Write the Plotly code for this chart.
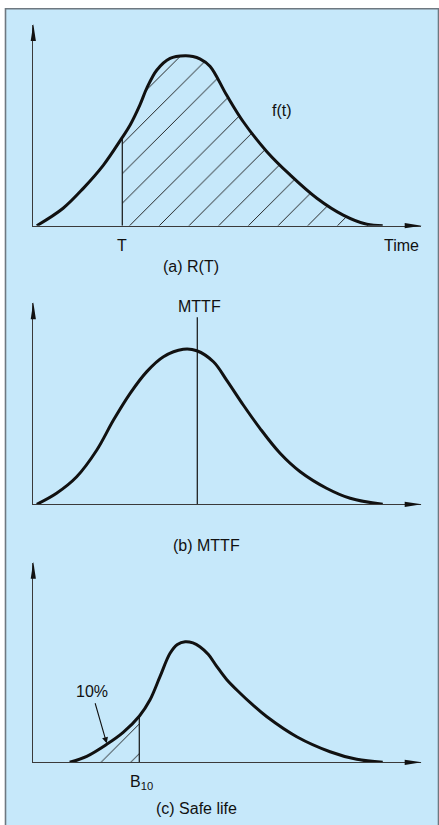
import plotly.graph_objects as go

# ---------------- data ----------------
# time axis runs 0..100, density axis 0..1 in every panel
# (a) R(T)
t_a = [0.9, 7.7, 12.9, 18.1, 22.8, 25.0, 27.5, 29.3, 31.9, 35.3, 39.2, 41.2, 43.0, 45.6,
       49.9, 54.2, 60.3, 66.3, 73.2, 80.0, 86.1, 90.2]
f_a = [0.0, 0.087, 0.186, 0.302, 0.435, 0.502, 0.601, 0.685, 0.776, 0.834, 0.847, 0.843,
       0.831, 0.795, 0.651, 0.518, 0.369, 0.253, 0.137, 0.053, 0.007, 0.0]
T_POS, T_TOP = 22.97, 0.436

# (b) MTTF
t_b = [0.9, 6.0, 11.2, 16.4, 20.7, 25.0, 29.3, 33.6, 38.7, 42.2, 46.5, 49.9, 54.2,
       58.5, 63.7, 68.9, 75.7, 81.8, 90.2]
f_b = [0.0, 0.055, 0.137, 0.270, 0.419, 0.552, 0.660, 0.734, 0.771, 0.764, 0.709,
       0.618, 0.494, 0.378, 0.254, 0.162, 0.080, 0.030, 0.0]
MTTF_POS, MTTF_TOP = 42.33, 0.93

# (c) Safe life
t_c = [9.4, 13.8, 18.95, 23.2, 27.4, 30.1, 32.7, 35.3, 37.2, 39.2, 41.2, 43.0, 45.2,
       47.3, 49.9, 53.4, 56.8, 60.3, 68.0, 76.6, 83.5, 90.2]
f_c = [0.0, 0.030, 0.090, 0.150, 0.232, 0.312, 0.429, 0.546, 0.590, 0.604, 0.598,
       0.579, 0.540, 0.482, 0.415, 0.346, 0.285, 0.228, 0.128, 0.053, 0.015, 0.0]
B10_POS, B10_TOP = 27.36, 0.232

captions = ["(a) R(T)", "(b) MTTF", "(c) Safe life"]

# ---------------- layout helpers ----------------
W, H = 439, 825
X_LEFT, X_RIGHT = 33.3, 420.7          # pixel extent of the time axis
panels_px = [(25.0, 225.7), (303.3, 504.3), (562.7, 762.3)]  # (top, axis) pixels

BLUE = "#C6E8FA"
FRAME = "#6E7880"
INK = "#111111"
AX = "#3a3a3a"
FONT = "Liberation Sans, Arial, Helvetica, sans-serif"

fig = go.Figure()


def refs(i):
    s = "" if i == 1 else str(i)
    return dict(xaxis=f"x{s}", yaxis=f"y{s}")


def add_curve(i, t, f):
    fig.add_trace(go.Scatter(x=t, y=f, mode="lines",
                             line=dict(color=INK, width=3, shape="spline", smoothing=1.0),
                             cliponaxis=False, hoverinfo="skip", showlegend=False, **refs(i)))


def add_vline(i, pos, top):
    fig.add_trace(go.Scatter(x=[pos, pos], y=[0, top], mode="lines", line=dict(color=INK, width=1.2),
                             cliponaxis=False, hoverinfo="skip", showlegend=False, **refs(i)))


def add_hatch(i, t, f):
    fig.add_trace(go.Scatter(x=t, y=f, mode="lines", line=dict(width=0, shape="spline", smoothing=1.0),
                             fill="tozeroy", fillcolor="rgba(0,0,0,0)",
                             fillpattern=dict(shape="/", size=21, solidity=0.045, fgcolor="#1a1a1a",
                                              bgcolor="rgba(0,0,0,0)", fillmode="replace"),
                             hoverinfo="skip", showlegend=False, **refs(i)))


# panel (a): hatched area right of T
ha_t = [T_POS] + [t for t in t_a if t > T_POS]
ha_f = [T_TOP] + [f for t, f in zip(t_a, f_a) if t > T_POS]
add_hatch(1, ha_t, ha_f)
add_vline(1, T_POS, T_TOP)
add_curve(1, t_a, f_a)

# panel (b)
add_vline(2, MTTF_POS, MTTF_TOP)
add_curve(2, t_b, f_b)

# panel (c): hatched area left of B10
hc_t = [t for t in t_c if t < B10_POS] + [B10_POS]
hc_f = [f for t, f in zip(t_c, f_c) if t < B10_POS] + [B10_TOP]
add_hatch(3, hc_t, hc_f)
add_vline(3, B10_POS, B10_TOP)
add_curve(3, t_c, f_c)

layout = dict(
    width=W, height=H, margin=dict(l=0, r=0, t=0, b=0),
    paper_bgcolor="white", plot_bgcolor="rgba(0,0,0,0)",
    showlegend=False, font=dict(family=FONT, size=16, color=INK),
)
shapes = [dict(type="rect", xref="paper", yref="paper", x0=5.5 / W, x1=438.5 / W,
               y0=-0.02, y1=1 - 8.8 / H, fillcolor=BLUE, line=dict(color=FRAME, width=1.6), layer="below")]
annotations = []
for k, (top, axis) in enumerate(panels_px, start=1):
    sfx = "" if k == 1 else str(k)
    layout[f"xaxis{sfx}"] = dict(domain=[X_LEFT / W, X_RIGHT / W], range=[0, 100], showline=True,
                                 linecolor=AX, linewidth=1.2, showgrid=False, zeroline=False,
                                 showticklabels=False, ticks="", anchor=f"y{sfx}", fixedrange=True)
    layout[f"yaxis{sfx}"] = dict(domain=[1 - axis / H, 1 - top / H], range=[0, 1], showline=True,
                                 linecolor=AX, linewidth=1.2, showgrid=False, zeroline=False,
                                 showticklabels=False, ticks="", anchor=f"x{sfx}", fixedrange=True)
    # arrowheads at the ends of both axes (paper-anchored so they are not clipped)
    shapes.append(dict(type="path", xref="paper", yref="paper", xsizemode="pixel", ysizemode="pixel",
                       xanchor=X_RIGHT / W, yanchor=1 - axis / H, path="M1,0 L-16,2.6 L-16,-2.6 Z",
                       fillcolor=INK, line=dict(width=0), layer="above"))
    shapes.append(dict(type="path", xref="paper", yref="paper", xsizemode="pixel", ysizemode="pixel",
                       xanchor=X_LEFT / W, yanchor=1 - top / H, path="M0,1 L-2.6,-16 L2.6,-16 Z",
                       fillcolor=INK, line=dict(width=0), layer="above"))


def label(k, x, py, text, **kw):
    """x in the panel's time units, py = pixel row of the text centre."""
    sfx = "" if k == 1 else str(k)
    d = dict(xref=f"x{sfx}", yref="paper", x=x, y=1 - py / H, text=text, showarrow=False,
             xanchor="center", yanchor="middle", font=dict(family=FONT, size=16, color=INK))
    d.update(kw)
    annotations.append(d)


label(1, 64.2, 111.0, "f(t)")
label(1, 22.97, 245.0, "T")
label(1, 95.1, 245.0, "Time")
label(1, 40.6, 266.7, captions[0])
label(2, 42.85, 306.7, "MTTF")
label(2, 44.7, 545.0, captions[1])
label(3, 28.0, 782.7, "B<sub>10</sub>")
label(3, 42.0, 808.3, captions[2])
annotations.append(dict(xref="x3", yref="y3", x=18.95, y=0.095, text="10%", showarrow=True,
                        ax=-15, ay=-52, arrowhead=2, arrowsize=1.1, arrowwidth=1.1, arrowcolor=INK,
                        standoff=0, startstandoff=2, font=dict(family=FONT, size=16, color=INK)))

layout["shapes"] = shapes
layout["annotations"] = annotations
fig.update_layout(**layout)
fig.write_html("out.html", config={"displayModeBar": False},
               post_script="document.body.style.margin='0';")
